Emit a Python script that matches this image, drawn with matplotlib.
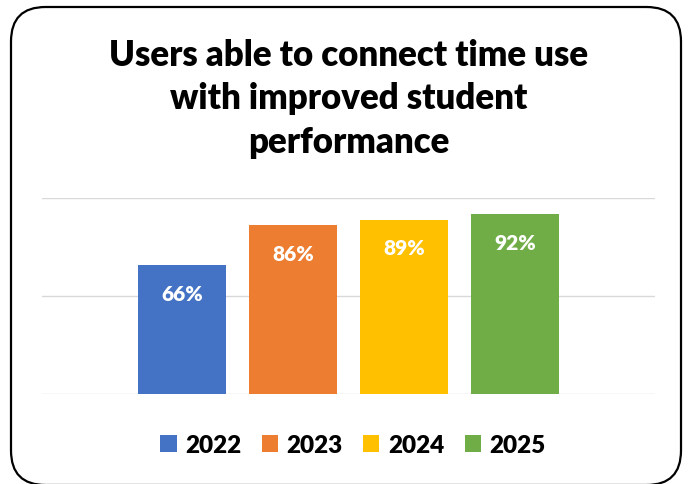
import matplotlib.pyplot as plt
from matplotlib.patches import FancyBboxPatch

# Data
years = ['2022', '2023', '2024', '2025']
values = [66, 86, 89, 92]
colors = ['#4472C4', '#ED7D31', '#FFC000', '#70AD47']
title = 'Users able to connect time use\nwith improved student\nperformance'

plt.rcParams['font.family'] = ['Lato', 'DejaVu Sans']

fig = plt.figure(figsize=(6.9, 4.85), dpi=100)

# Rounded chart border (bottom edge runs just off the image)
border = FancyBboxPatch((11 / 690, -1 / 485), 670 / 690, 478 / 485,
                        boxstyle='round,pad=0,rounding_size=0.05',
                        transform=fig.transFigure, fill=False,
                        edgecolor='black', linewidth=1.6,
                        mutation_aspect=690 / 485)
fig.patches.append(border)

ax = fig.add_axes([42 / 690, 90 / 485, 613 / 690, 196 / 485])

x = range(len(years))
for i in x:
    ax.bar(i, values[i], width=0.79, color=colors[i], label=years[i],
           zorder=3)
    ax.text(i, values[i] - 14.5, f'{values[i]}%', ha='center', va='center',
            color='white', fontsize=15, fontweight='heavy', zorder=4)

ax.set_xlim(-1.26, 4.26)
ax.set_ylim(0, 100)
ax.set_yticks([0, 50, 100])
ax.yaxis.grid(True, color='#D9D9D9', linewidth=1)
ax.set_xticks([])
ax.tick_params(left=False, labelleft=False)
for s in ax.spines.values():
    s.set_visible(False)

fig.text(349 / 690, 1 - 99 / 485, title, ha='center', va='center',
         fontsize=25, fontweight='heavy', linespacing=1.4)

fig.legend(loc='center', bbox_to_anchor=(353 / 690, 1 - 446 / 485),
           ncol=4, frameon=False, prop={'size': 17.5, 'weight': 'heavy'},
           handlelength=0.66, handleheight=0.66, handletextpad=0.35,
           columnspacing=0.85)

fig.savefig('out.png', dpi=100)
